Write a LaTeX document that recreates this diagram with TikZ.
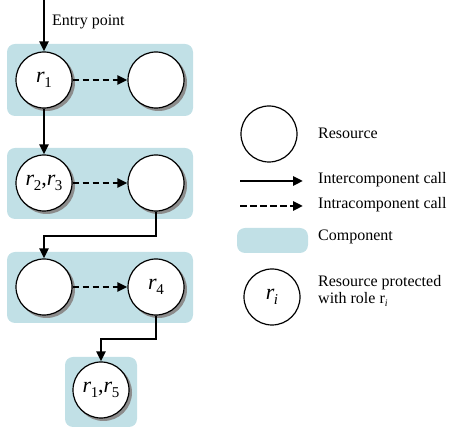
\documentclass[tikz,border=0pt]{standalone}
\usepackage{fontspec}
\setmainfont{Liberation Serif}
\usetikzlibrary{arrows.meta}

\definecolor{compfill}{RGB}{193,224,230}

% resource label: italic r with a lowered index
\newcommand\resname[1]{\textit{r}\kern-0.5pt\raisebox{-5pt}{\fontsize{15}{15}\selectfont #1}}

\begin{document}
\begin{tikzpicture}[x=1pt,y=-1pt,
  font=\fontsize{16}{19}\selectfont,
  comp/.style={fill=compfill, draw=none, rounded corners=8pt},
  res/.style={circle, draw=black, line width=1.2pt, fill=white,
    minimum size=56pt, inner sep=0pt, font=\fontsize{22}{22}\selectfont},
  shade circle/.style={fill=black!45, draw=none},
  inter/.style={line width=2.8pt, -{Triangle[length=10pt,width=9pt]}},
  intra/.style={line width=2.8pt, dash pattern=on 6.5pt off 3.5pt,
    -{Triangle[length=10pt,width=9pt]}},
  lbl/.style={anchor=west, inner sep=0pt}
]
\useasboundingbox (0,0) rectangle (451,427);

% components
\fill[comp] (7,44) rectangle (193,116);
\fill[comp] (7,148) rectangle (193,219);
\fill[comp] (7,252) rectangle (193,323);
\fill[comp] (65,357) rectangle (137,427);

% shadows under the resources
\foreach \cx/\cy in {44/80,156/80,44/183,156/183,44/287,156/287,101/390}
  \fill[shade circle] (\cx+2.5,\cy+2.5) circle[radius=28.5pt];

% resources
\node[res] (a1) at (44,80) {\resname{1}};
\node[res] (b1) at (156,80) {};
\node[res] (a2) at (44,183) {\resname{2},\resname{3}};
\node[res] (b2) at (156,183) {};
\node[res] (a3) at (44,287) {};
\node[res] (b3) at (156,287) {\resname{4}};
\node[res] (a4) at (101,390) {\resname{1},\resname{5}};

% entry point
\coordinate (entry) at (44,0);
\draw[inter] (entry) -- (a1.north);
\node[lbl] (entrylbl) at (52,22) {Entry point};

% calls
\draw[intra] (a1.east) -- (b1.west);
\draw[intra] (a2.east) -- (b2.west);
\draw[intra] (a3.east) -- (b3.west);
\draw[inter] (a1.south) -- (a2.north);
\draw[inter] (b2.south) |- (100,236) -| (a3.north);
\draw[inter] (b3.south) |- (120,339) -| (a4.north);

% legend
\node[res] (lres) at (269,134) {};
\node[lbl] (tres) at (318,133) {Resource};
\coordinate (s1) at (240,181);
\coordinate (s2) at (303,181);
\draw[inter] (s1) -- (s2);
\node[lbl] (tinter) at (318,180) {Intercomponent call};
\coordinate (d1) at (240,206);
\coordinate (d2) at (303,206);
\draw[intra] (d1) -- (d2);
\node[lbl] (tintra) at (318,205) {Intracomponent call};
\fill[comp] (237,228) rectangle (308,253);
\node[lbl] (tcomp) at (318,237) {Component};
\node[res] (lri) at (272,297) {\textit{r}\kern-0.5pt\raisebox{-5pt}{\fontsize{15}{15}\selectfont\textit{i}}};
\node[lbl, align=left, font=\fontsize{16}{17}\selectfont] (tri) at (318,291)
  {Resource protected\\with role r\raisebox{-3pt}{\fontsize{10}{10}\selectfont\textit{i}}};
\end{tikzpicture}
\end{document}
